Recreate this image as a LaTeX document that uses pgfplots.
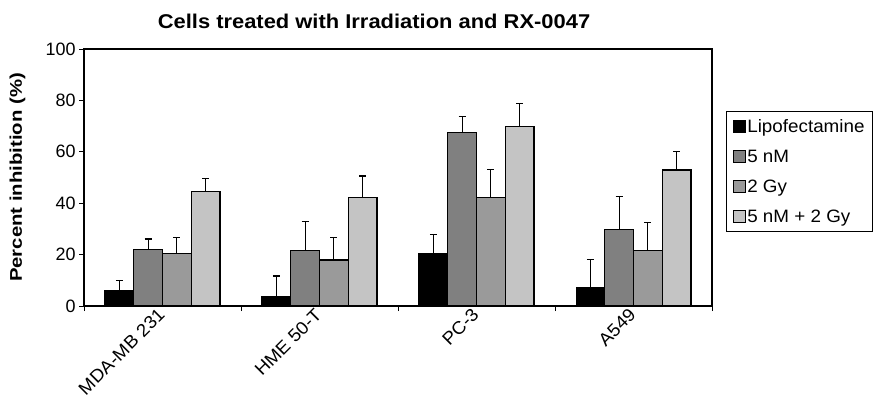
\documentclass[border=0pt]{standalone}
\usepackage{fontspec}
\setmainfont{Liberation Sans}
\newfontfamily\widea{Liberation Sans}[FakeStretch=1.1]
\newfontfamily\wideb{Liberation Sans}[FakeStretch=1.2]
\newfontfamily\widec{Liberation Sans}[FakeStretch=1.05]
\usepackage{pgfplots}
\usepackage{pgfplotstable}
\pgfplotsset{compat=1.18}
\definecolor{cnm}{HTML}{808080}
\definecolor{cgy}{HTML}{9A9A9A}
\definecolor{ccomb}{HTML}{C4C4C4}

% mean and upper error for each cell line
\pgfplotstableread{
x lipo lipoe nm nme gy gye comb combe
0 6.1 3.8 22.0 4.0 20.5 6.1 44.6 4.9
1 3.7 8.0 21.7 11.2 17.9 8.7 42.3 8.3
2 20.6 7.3 67.6 6.1 42.2 10.8 69.9 8.9
3 7.1 11.1 29.9 12.6 21.7 10.7 52.9 7.2
}\data

\begin{document}
\begin{tikzpicture}[x=1bp,y=1bp]
\useasboundingbox (0,0) rectangle (874,401);
\node[font=\widea\bfseries\fontsize{20}{24}\selectfont] at (374,380) {Cells treated with Irradiation and RX-0047};
\begin{axis}[
  at={(84bp,95bp)}, anchor=south west,
  width=628bp, height=257bp, scale only axis,
  xmin=-0.5, xmax=3.5, ymin=0, ymax=100,
  ytick={0,20,...,100},
  xtick={-0.5,0.5,1.5,2.5,3.5}, xticklabels={},
  extra x ticks={0,1,2,3},
  extra x tick labels={MDA-MB 231,HME 50-T,PC-3,A549},
  extra x tick style={major tick length=0pt, grid=none,
    tick label style={font=\widec\fontsize{18}{21}\selectfont, xshift=-5.5bp, yshift=-1bp, rotate=45, anchor=north east, inner sep=0pt}},
  tick align=outside, major tick length=5bp,
  xtick pos=bottom, ytick pos=left,
  tick style={black, line width=0.8bp},
  axis line style={line width=1.2bp},
  tick label style={font=\fontsize{18}{21}\selectfont},
  /pgf/number format/assume math mode=true,
  ylabel={Percent inhibition (\%)},
  ylabel style={font=\wideb\bfseries\fontsize{17}{20}\selectfont, at={(axis description cs:-0.106,0.5)}, anchor=center},
  ybar=0pt, bar width=0.183,
  every axis plot/.append style={draw=black, line width=1.1bp},
  error bars/error bar style={black, line width=1.1bp},
  error bars/error mark options={rotate=90, mark size=3.5bp, line width=1.4bp},
  legend style={at={(1,1)}, anchor=north west, xshift=14bp, yshift=-62bp,
    draw=black, line width=1bp, font=\widec\fontsize{18}{21}\selectfont,
    row sep=12bp, inner xsep=6bp, inner ysep=6bp, cells={anchor=west}},
  legend image code/.code={\draw[#1, line width=0.8bp] (0bp,-6bp) rectangle (12bp,6bp);},
]
\addplot[fill=black, error bars/.cd, y dir=plus, y explicit] table[x=x, y=lipo, y error=lipoe]{\data};
\addplot[fill=cnm, error bars/.cd, y dir=plus, y explicit] table[x=x, y=nm, y error=nme]{\data};
\addplot[fill=cgy, error bars/.cd, y dir=plus, y explicit] table[x=x, y=gy, y error=gye]{\data};
\addplot[fill=ccomb, error bars/.cd, y dir=plus, y explicit] table[x=x, y=comb, y error=combe]{\data};
\legend{Lipofectamine, 5 nM, 2 Gy, 5 nM + 2 Gy}
\end{axis}
\end{tikzpicture}
\end{document}
